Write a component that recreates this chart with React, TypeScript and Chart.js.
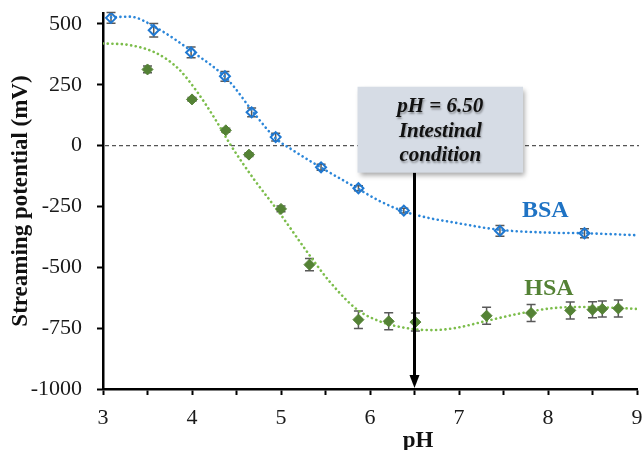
import { useEffect, useRef } from "react";
import { Chart, registerables } from "chart.js";

Chart.register(...registerables);

// ---- data ----
const bsaPH = [3.09, 3.57, 3.99, 4.37, 4.67, 4.94, 5.45, 5.87, 6.38, 7.46, 8.41];
const bsaMV = [525, 474, 383, 285, 137, 35, -89, -175, -267, -350, -360];
const bsaErr = [22, 28, 22, 20, 18, 16, 12, 10, 10, 22, 18];

const hsaPH = [3.5, 4.0, 4.38, 4.64, 5.0, 5.32, 5.87, 6.21, 6.51, 7.31, 7.81, 8.25, 8.5, 8.61, 8.79];
const hsaMV = [313, 190, 63, -37, -260, -489, -715, -722, -725, -699, -688, -677, -674, -671, -669];
const hsaErr = [14, 8, 8, 8, 12, 25, 36, 35, 37, 35, 35, 35, 33, 33, 35];

// trend curves
const bsaFitPH = [3.09, 3.3, 3.6, 4.0, 4.4, 4.7, 4.94, 5.13, 5.45, 5.87, 6.11, 6.38, 6.67, 6.93, 7.46, 8.05, 8.42, 9.0];
const bsaFitMV = [527, 530, 484, 387, 272, 132, 30, -18, -90, -178, -228, -270, -298, -315, -346, -358, -360, -368];

const hsaFitPH = [3.0, 3.3, 3.6, 3.85, 4.05, 4.25, 4.43, 4.69, 4.99, 5.33, 5.55, 5.85, 6.11, 6.45, 6.7, 6.95, 7.31, 7.68, 8.05, 8.42, 8.8, 9.0];
const hsaFitMV = [420, 413, 380, 315, 225, 115, 5, -135, -280, -455, -560, -672, -722, -752, -758, -750, -720, -690, -668, -663, -667, -671];

const xTicks = [3, 4, 5, 6, 7, 8, 9];
const yTicks = [-1000, -750, -500, -250, 0, 250, 500];

// annotation
const markPH = 6.5;
const boxPH = [5.86, 7.72];
const boxMV = [242, -111];
const boxLines = ["pH = 6.50", "Intestinal", "condition"];
const bsaLabel = { text: "BSA", ph: 7.97, mv: -267 };
const hsaLabel = { text: "HSA", ph: 8.01, mv: -590 };

const FONT = '"Liberation Serif", "Times New Roman", serif';
const BLUE = "#1f78d1";
const BLUE_TEXT = "#1f73c4";
const BLUE_LINE = "#2b86d9";
const GREEN = "#548235";
const GREEN_LINE = "#7cbd4b";

const pts = (xs: number[], ys: number[]) => xs.map((x, i) => ({ x, y: ys[i] }));

export default function App() {
  const ref = useRef<HTMLCanvasElement>(null);

  useEffect(() => {
    if (!ref.current) return;

    const plugin = {
      id: "extras",
      beforeDatasetsDraw(chart: any) {
        const { ctx, chartArea } = chart;
        const x = chart.scales.x;
        const y = chart.scales.y;
        ctx.save();
        // zero dashed line
        const y0 = y.getPixelForValue(0);
        ctx.strokeStyle = "#555";
        ctx.lineWidth = 1.3;
        ctx.setLineDash([4, 3]);
        ctx.beginPath();
        ctx.moveTo(chartArea.left + 2, y0);
        ctx.lineTo(chartArea.right + 2, y0);
        ctx.stroke();
        ctx.setLineDash([]);
        // error bars
        const drawErr = (xs: number[], ys: number[], es: number[]) => {
          ctx.strokeStyle = "#595959";
          ctx.lineWidth = 1.5;
          xs.forEach((v, i) => {
            const px = x.getPixelForValue(v);
            const a = y.getPixelForValue(ys[i] + es[i]);
            const b = y.getPixelForValue(ys[i] - es[i]);
            ctx.beginPath();
            ctx.moveTo(px, a);
            ctx.lineTo(px, b);
            ctx.moveTo(px - 4.5, a);
            ctx.lineTo(px + 4.5, a);
            ctx.moveTo(px - 4.5, b);
            ctx.lineTo(px + 4.5, b);
            ctx.stroke();
          });
        };
        drawErr(bsaPH, bsaMV, bsaErr);
        drawErr(hsaPH, hsaMV, hsaErr);
        ctx.restore();
      },
      afterDatasetsDraw(chart: any) {
        const { ctx } = chart;
        const x = chart.scales.x;
        const y = chart.scales.y;
        ctx.save();
        // series labels
        ctx.font = `bold 24px ${FONT}`;
        ctx.textAlign = "center";
        ctx.textBaseline = "middle";
        ctx.fillStyle = BLUE_TEXT;
        ctx.fillText(bsaLabel.text, x.getPixelForValue(bsaLabel.ph), y.getPixelForValue(bsaLabel.mv));
        ctx.fillStyle = GREEN;
        ctx.fillText(hsaLabel.text, x.getPixelForValue(hsaLabel.ph), y.getPixelForValue(hsaLabel.mv));

        // arrow
        const ax = x.getPixelForValue(markPH);
        const aTop = y.getPixelForValue(boxMV[1]);
        const aBot = y.getPixelForValue(-1000);
        ctx.strokeStyle = "#000";
        ctx.fillStyle = "#000";
        ctx.lineWidth = 3;
        ctx.beginPath();
        ctx.moveTo(ax, aTop);
        ctx.lineTo(ax, aBot - 10);
        ctx.stroke();
        ctx.beginPath();
        ctx.moveTo(ax - 5, aBot - 14);
        ctx.lineTo(ax + 5, aBot - 14);
        ctx.lineTo(ax, aBot - 1);
        ctx.closePath();
        ctx.fill();

        // box
        const bl = x.getPixelForValue(boxPH[0]);
        const br = x.getPixelForValue(boxPH[1]);
        const bt = y.getPixelForValue(boxMV[0]);
        const bb = y.getPixelForValue(boxMV[1]);
        ctx.save();
        ctx.shadowColor = "rgba(0,0,0,0.35)";
        ctx.shadowBlur = 5;
        ctx.shadowOffsetX = 2;
        ctx.shadowOffsetY = 3;
        ctx.fillStyle = "#d6dce5";
        ctx.fillRect(bl, bt, br - bl, bb - bt);
        ctx.restore();
        ctx.save();
        ctx.font = `italic bold 21px ${FONT}`;
        ctx.textAlign = "center";
        ctx.textBaseline = "middle";
        ctx.fillStyle = "#111";
        ctx.shadowColor = "rgba(0,0,0,0.35)";
        ctx.shadowBlur = 2;
        ctx.shadowOffsetX = 1;
        ctx.shadowOffsetY = 1.5;
        const cx = (bl + br) / 2;
        boxLines.forEach((t, i) => ctx.fillText(t, cx, bt + 20 + i * 24.5));
        ctx.restore();
        ctx.restore();
      },
      afterDraw(chart: any) {
        const { ctx, chartArea } = chart;
        ctx.save();
        ctx.fillStyle = "#111";
        ctx.font = `bold 23px ${FONT}`;
        ctx.textAlign = "center";
        ctx.textBaseline = "alphabetic";
        ctx.fillText("pH", 418, 447);
        ctx.translate(27, (chartArea.top + chartArea.bottom) / 2);
        ctx.rotate(-Math.PI / 2);
        ctx.fillText("Streaming potential (mV)", 0, 0);
        ctx.restore();
      },
    };

    const chart = new Chart(ref.current, {
      type: "scatter",
      data: {
        datasets: [
          {
            label: "BSA fit",
            data: pts(bsaFitPH, bsaFitMV),
            showLine: true,
            pointRadius: 0,
            borderColor: BLUE_LINE,
            borderWidth: 2.6,
            borderDash: [0.1, 4.6],
            borderCapStyle: "round",
            cubicInterpolationMode: "monotone",
            fill: false,
            order: 2,
          },
          {
            label: "HSA fit",
            data: pts(hsaFitPH, hsaFitMV),
            showLine: true,
            pointRadius: 0,
            borderColor: GREEN_LINE,
            borderWidth: 2.6,
            borderDash: [0.1, 4.6],
            borderCapStyle: "round",
            cubicInterpolationMode: "monotone",
            fill: false,
            order: 2,
          },
          {
            label: "BSA",
            data: pts(bsaPH, bsaMV),
            showLine: false,
            pointStyle: "rectRot",
            pointRadius: 5,
            pointBorderWidth: 2,
            pointBorderColor: BLUE,
            pointBackgroundColor: "rgba(255,255,255,0)",
            order: 1,
          },
          {
            label: "HSA",
            data: pts(hsaPH, hsaMV),
            showLine: false,
            pointStyle: "rectRot",
            pointRadius: 5.5,
            pointBorderWidth: 1,
            pointBorderColor: GREEN,
            pointBackgroundColor: GREEN,
            order: 1,
          },
        ],
      },
      options: {
        animation: false,
        responsive: false,
        devicePixelRatio: 1,
        layout: { padding: { top: 13, right: 6, left: 0, bottom: 0 } },
        plugins: { legend: { display: false }, tooltip: { enabled: false } },
        scales: {
          x: {
            type: "linear",
            min: 3,
            max: 9,
            afterBuildTicks: (s: any) => {
              const t: any[] = [];
              for (let i = 0; i <= (xTicks[xTicks.length - 1] - xTicks[0]) * 2; i++) {
                t.push({ value: xTicks[0] + i * 0.5 });
              }
              s.ticks = t;
            },
            afterFit: (s: any) => {
              s.height = 61;
              s.paddingLeft = 0;
              s.paddingRight = 0;
              s.paddingTop = 0;
              s.paddingBottom = 0;
            },
            ticks: {
              autoSkip: false,
              maxRotation: 0,
              padding: 10,
              color: "#1a1a1a",
              font: { family: FONT, size: 22 },
              callback: (v: any) => (xTicks.includes(Number(v)) ? String(v) : ""),
            },
            grid: {
              drawOnChartArea: false,
              drawTicks: true,
              tickLength: 6,
              tickWidth: 2,
              tickColor: "#000",
            },
            border: { display: true, color: "#000", width: 2.5 },
          },
          y: {
            type: "linear",
            min: -1000,
            max: 545,
            afterBuildTicks: (s: any) => {
              s.ticks = yTicks.map((v) => ({ value: v }));
            },
            afterFit: (s: any) => {
              s.width = 103;
              s.paddingLeft = 0;
              s.paddingRight = 0;
              s.paddingTop = 0;
              s.paddingBottom = 0;
            },
            ticks: {
              padding: 15,
              color: "#1a1a1a",
              font: { family: FONT, size: 22 },
              callback: (v: any) => String(v),
            },
            grid: {
              drawOnChartArea: false,
              drawTicks: true,
              tickLength: 6,
              tickWidth: 2,
              tickColor: "#000",
            },
            border: { display: true, color: "#000", width: 2.5 },
          },
        },
      },
      plugins: [plugin],
    } as any);

    return () => chart.destroy();
  }, []);

  return (
    <div style={{ position: "fixed", left: 0, top: 0, width: 644, height: 450, background: "#fff" }}>
      <canvas ref={ref} width={644} height={450} style={{ display: "block" }} />
    </div>
  );
}
